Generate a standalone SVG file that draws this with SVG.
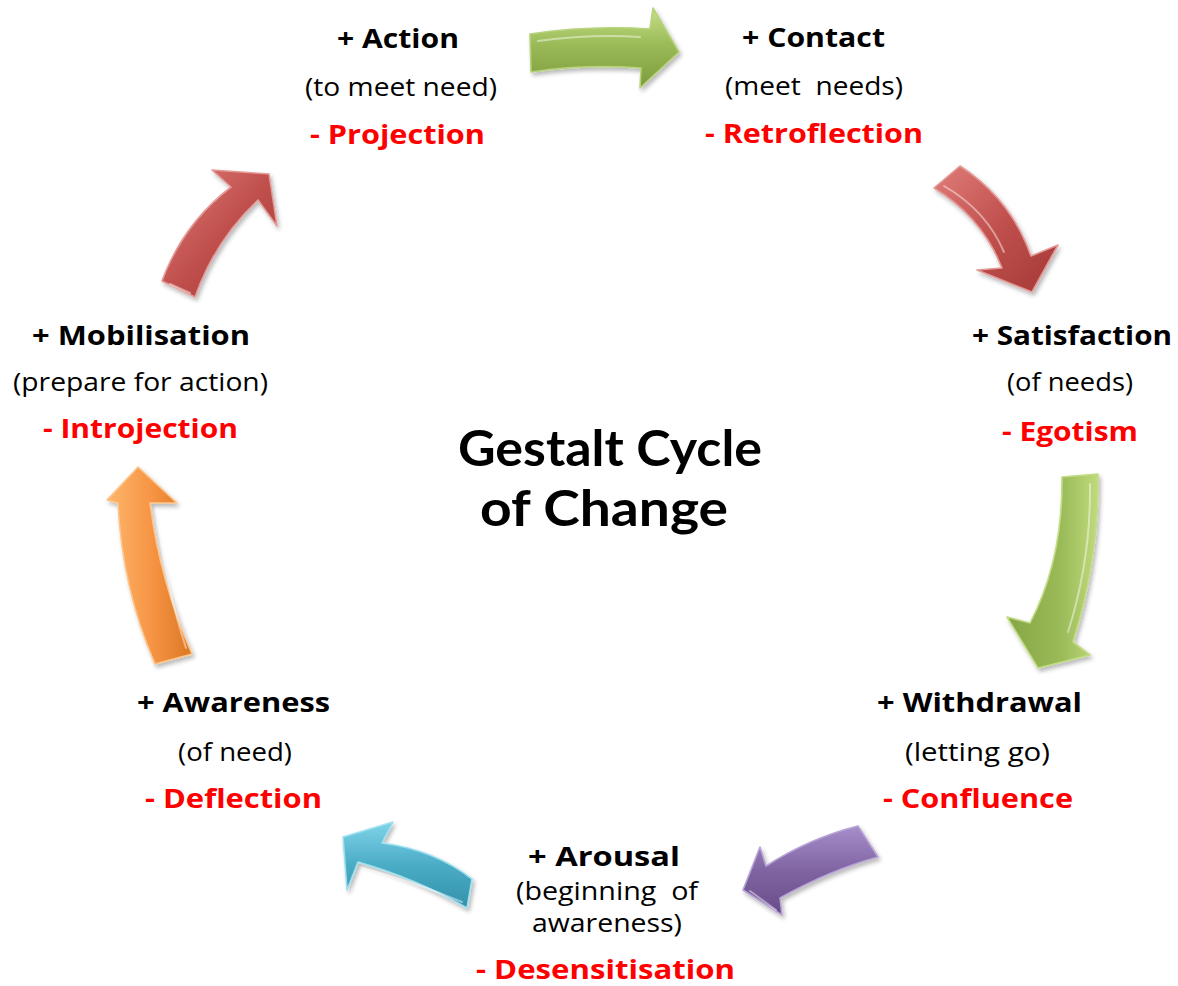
<svg xmlns="http://www.w3.org/2000/svg" width="1178" height="986" viewBox="0 0 1178 986">
  <defs>
    <style>
      .hd { font-family: "Open Sans", "Liberation Sans", sans-serif; font-weight: 700; font-size: 27px; fill: #000; text-anchor: middle; }
      .sub { font-family: "Open Sans", "Liberation Sans", sans-serif; font-weight: 400; font-size: 25px; fill: #000; text-anchor: middle; }
      .neg { font-family: "Open Sans", "Liberation Sans", sans-serif; font-weight: 700; font-size: 27px; fill: #ff0000; text-anchor: middle; }
      .ttl { font-family: Lato, "Open Sans", sans-serif; font-weight: 700; font-size: 49px; fill: #000; text-anchor: middle; }
      .arrow { stroke-width: 1.6; stroke-linejoin: round; filter: url(#shadow); }
      .gloss { fill: none; stroke: #ffffff; stroke-width: 2; stroke-linecap: round; opacity: 0.45; }
    </style>
    <filter id="shadow" x="-20%" y="-20%" width="140%" height="140%">
      <feDropShadow dx="2" dy="3" stdDeviation="2.2" flood-color="#000" flood-opacity="0.28"/>
    </filter>
    <linearGradient id="gGreen" x1="0" y1="0" x2="0" y2="1">
      <stop offset="0" stop-color="#c6df86"/>
      <stop offset="0.45" stop-color="#9bbb59"/>
      <stop offset="1" stop-color="#7c9b3d"/>
    </linearGradient>
    <linearGradient id="gGreenV" x1="0" y1="0" x2="1" y2="0">
      <stop offset="0" stop-color="#86a646"/>
      <stop offset="0.6" stop-color="#9bbb59"/>
      <stop offset="1" stop-color="#c0da7c"/>
    </linearGradient>
    <linearGradient id="gRed" x1="0" y1="0" x2="1" y2="1">
      <stop offset="0" stop-color="#e07d7a"/>
      <stop offset="0.5" stop-color="#c0504d"/>
      <stop offset="1" stop-color="#a33936"/>
    </linearGradient>
    <linearGradient id="gPurple" x1="0" y1="0" x2="0" y2="1">
      <stop offset="0" stop-color="#a68ecb"/>
      <stop offset="0.5" stop-color="#8064a2"/>
      <stop offset="1" stop-color="#684c8a"/>
    </linearGradient>
    <linearGradient id="gCyan" x1="0" y1="0" x2="0" y2="1">
      <stop offset="0" stop-color="#7fd4e9"/>
      <stop offset="0.5" stop-color="#4bacc6"/>
      <stop offset="1" stop-color="#3391aa"/>
    </linearGradient>
    <linearGradient id="gOrange" x1="0" y1="0" x2="1" y2="0">
      <stop offset="0" stop-color="#fdb66c"/>
      <stop offset="0.5" stop-color="#f79646"/>
      <stop offset="1" stop-color="#dc7722"/>
    </linearGradient>
  </defs>

  <rect width="1178" height="986" fill="#ffffff"/>

  <!-- curved arrows joining the stages, clockwise -->
  <g id="connectors">
    <g id="arrow-action-contact">
      <path class="arrow" fill="url(#gGreen)" stroke="#b6d27a" d="M530,34 Q590,25 650,29 L653,8 L679,52 L640,88 L641,68 Q585,64 531,72 Z"/>
      <path class="gloss" d="M538,41 Q590,34 640,37"/>
    </g>
    <g id="arrow-contact-satisfaction">
      <path class="arrow" fill="url(#gRed)" stroke="#e39a98" d="M934,188 L960,166 Q1011,199 1031,256 L1058,245 L1032,292 L977,270 L1002,268 Q982,217 934,188 Z"/>
      <path class="gloss" d="M944,186 Q986,210 1004,252"/>
    </g>
    <g id="arrow-satisfaction-withdrawal">
      <path class="arrow" fill="url(#gGreenV)" stroke="#c2db84" d="M1062,477 L1098,474 Q1099,560 1073,642 L1090,655 L1038,668 L1007,617 L1030,623 Q1063,560 1062,477 Z"/>
      <path class="gloss" d="M1090,484 Q1091,560 1068,632"/>
    </g>
    <g id="arrow-withdrawal-arousal">
      <path class="arrow" fill="url(#gPurple)" stroke="#b7a3d6" d="M858,826 L878,857 Q830,870 780,898 L782,915 L743,890 L760,847 L766,866 Q810,838 858,826 Z"/>
      <path class="gloss" d="M750,891 L776,910"/>
    </g>
    <g id="arrow-arousal-awareness">
      <path class="arrow" fill="url(#gCyan)" stroke="#9ee0f0" d="M472,879 L467,908 Q415,878 358,862 L347,890 L343,837 L393,822 L382,843 Q435,850 472,879 Z"/>
      <path class="gloss" d="M362,868 Q415,882 462,902"/>
    </g>
    <g id="arrow-awareness-mobilisation">
      <path class="arrow" fill="url(#gOrange)" stroke="#fcc58c" d="M155,664 L192,654 Q160,582 150,503 L177,503 L138,467 L107,500 L118,503 Q122,588 155,664 Z"/>
      <path class="gloss" d="M157,508 Q165,585 186,648"/>
    </g>
    <g id="arrow-mobilisation-action">
      <path class="arrow" fill="url(#gRed)" stroke="#e39a98" d="M162,281 L195,297 Q215,240 258,200 L277,226 L269,174 L212,170 L231,187 Q183,224 162,281 Z"/>
      <path class="gloss" d="M170,284 L190,293"/>
    </g>
  </g>

  <g id="title">
    <text class="ttl"><tspan x="610" y="466" textLength="304" lengthAdjust="spacingAndGlyphs">Gestalt Cycle</tspan><tspan x="604" y="526" textLength="248" lengthAdjust="spacingAndGlyphs">of Change</tspan></text>
  </g>

  <g id="node-action">
    <text class="hd" x="398" y="48" textLength="122" lengthAdjust="spacingAndGlyphs">+ Action</text>
    <text class="sub" x="401" y="96" textLength="192" lengthAdjust="spacingAndGlyphs">(to meet need)</text>
    <text class="neg" x="397.5" y="144" textLength="175" lengthAdjust="spacingAndGlyphs">- Projection</text>
  </g>

  <g id="node-contact">
    <text class="hd" x="813.5" y="47" textLength="143" lengthAdjust="spacingAndGlyphs">+ Contact</text>
    <text class="sub" x="814" y="95" textLength="178" lengthAdjust="spacingAndGlyphs" xml:space="preserve">(meet  needs)</text>
    <text class="neg" x="814" y="143" textLength="218" lengthAdjust="spacingAndGlyphs">- Retroflection</text>
  </g>

  <g id="node-satisfaction">
    <text class="hd" x="1072" y="345" textLength="200" lengthAdjust="spacingAndGlyphs">+ Satisfaction</text>
    <text class="sub" x="1070" y="391" textLength="126" lengthAdjust="spacingAndGlyphs">(of needs)</text>
    <text class="neg" x="1070" y="441" textLength="136" lengthAdjust="spacingAndGlyphs">- Egotism</text>
  </g>

  <g id="node-withdrawal">
    <text class="hd" x="979.5" y="712" textLength="205" lengthAdjust="spacingAndGlyphs">+ Withdrawal</text>
    <text class="sub" x="977.5" y="761" textLength="145" lengthAdjust="spacingAndGlyphs">(letting go)</text>
    <text class="neg" x="978" y="808" textLength="190" lengthAdjust="spacingAndGlyphs">- Confluence</text>
  </g>

  <g id="node-arousal">
    <text class="hd" x="604" y="866" textLength="152" lengthAdjust="spacingAndGlyphs">+ Arousal</text>
    <text class="sub" x="607" y="900" textLength="182" lengthAdjust="spacingAndGlyphs" xml:space="preserve">(beginning  of</text>
    <text class="sub" x="607" y="932" textLength="150" lengthAdjust="spacingAndGlyphs">awareness)</text>
    <text class="neg" x="605.5" y="979" textLength="259" lengthAdjust="spacingAndGlyphs">- Desensitisation</text>
  </g>

  <g id="node-awareness">
    <text class="hd" x="233.5" y="712" textLength="193" lengthAdjust="spacingAndGlyphs">+ Awareness</text>
    <text class="sub" x="235" y="761" textLength="114" lengthAdjust="spacingAndGlyphs">(of need)</text>
    <text class="neg" x="233.5" y="808" textLength="177" lengthAdjust="spacingAndGlyphs">- Deflection</text>
  </g>

  <g id="node-mobilisation">
    <text class="hd" x="141" y="345" textLength="218" lengthAdjust="spacingAndGlyphs">+ Mobilisation</text>
    <text class="sub" x="140.5" y="391" textLength="255" lengthAdjust="spacingAndGlyphs">(prepare for action)</text>
    <text class="neg" x="140.5" y="438" textLength="195" lengthAdjust="spacingAndGlyphs">- Introjection</text>
  </g>
</svg>
